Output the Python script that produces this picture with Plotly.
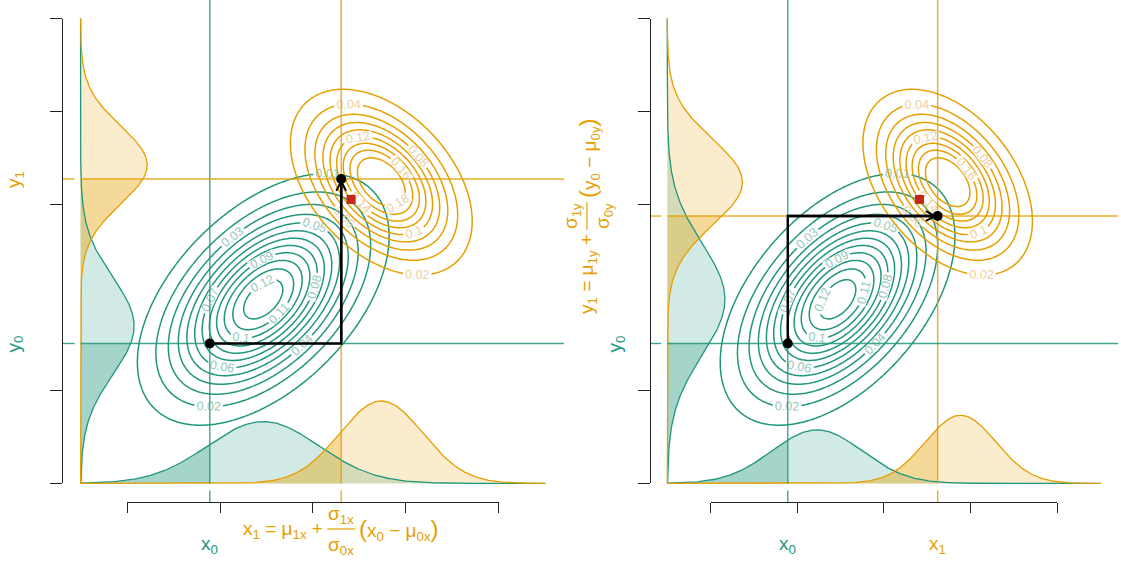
import numpy as np
import plotly.graph_objects as go

W, H = 1121, 561

# ---- source (teal) and target (orange) bivariate normal distributions ----
src_mean = [4.93, 3.96]
src_sd = [1.20, 1.20]
src_rho = 0.50
tgt_mean = [7.47, 6.48]
tgt_sd = [0.90, 0.92]
tgt_rho = -0.42

start_point = [3.78, 3.01]   # (x0, y0)
exact_point = [6.82, 6.11]   # exact transported point

src_levels = dict(start=0.01, end=0.1201, size=0.01)
tgt_levels = dict(start=0.02, end=0.1801, size=0.02)

marginal_scale = 4.0
conditional_scale = 3.0

x_range = [0.6, 11.4]
y_range = [-0.4, 10.4]
x_support = [1.0, 11.0]
y_support = [0.0, 10.0]
x_ticks = [2, 4, 6, 8, 10]
y_ticks = [0, 2, 6, 8, 10]

# ---- page geometry (paper fractions) ----
dom_left = [0.0553, 0.5031]
dom_right = [0.5798, 0.9973]
dom_y = [0.1052, 1.0]

TEAL = (32, 150, 124)
ORANGE = (230, 159, 0)
FONT = "Liberation Sans, Arial, sans-serif"


def rgba(c, a=1.0):
    return f"rgba({c[0]},{c[1]},{c[2]},{a})"


def normal_pdf(v, m, s):
    return np.exp(-0.5 * ((v - m) / s) ** 2) / (s * np.sqrt(2 * np.pi))


def conditional(mean, sd, rho, given, value):
    other = 1 - given
    m = mean[other] + rho * sd[other] / sd[given] * (value - mean[given])
    s = sd[other] * np.sqrt(1 - rho ** 2)
    return m, s


def bvn_pdf(X, Y, mean, sd, rho):
    zx = (X - mean[0]) / sd[0]
    zy = (Y - mean[1]) / sd[1]
    q = (zx ** 2 - 2 * rho * zx * zy + zy ** 2) / (1 - rho ** 2)
    return np.exp(-q / 2) / (2 * np.pi * sd[0] * sd[1] * np.sqrt(1 - rho ** 2))


def x_to_paper(v, dom):
    return dom[0] + (v - x_range[0]) / (x_range[1] - x_range[0]) * (dom[1] - dom[0])


def y_to_paper(v):
    return dom_y[0] + (v - y_range[0]) / (y_range[1] - y_range[0]) * (dom_y[1] - dom_y[0])


def x_units(px, dom):
    return px * (x_range[1] - x_range[0]) / (W * (dom[1] - dom[0]))


def y_units(px):
    return px * (y_range[1] - y_range[0]) / (H * (dom_y[1] - dom_y[0]))


def big_paren(s):
    return f'<span style="font-size:24px">{s}</span>'


x0, y0 = start_point

# left panel: map x by marginals, then y by conditionals
xL1 = tgt_mean[0] + tgt_sd[0] / src_sd[0] * (x0 - src_mean[0])
cy_src = conditional(src_mean, src_sd, src_rho, 0, x0)
cy_tgt = conditional(tgt_mean, tgt_sd, tgt_rho, 0, xL1)
yL1 = cy_tgt[0] + cy_tgt[1] / cy_src[1] * (y0 - cy_src[0])

# right panel: map y by marginals, then x by conditionals
yR1 = tgt_mean[1] + tgt_sd[1] / src_sd[1] * (y0 - src_mean[1])
cx_src = conditional(src_mean, src_sd, src_rho, 1, y0)
cx_tgt = conditional(tgt_mean, tgt_sd, tgt_rho, 1, yR1)
xR1 = cx_tgt[0] + cx_tgt[1] / cx_src[1] * (x0 - cx_src[0])

panels = [
    dict(xa="x", ya="y", dom=dom_left, x1=xL1, y1=yL1, first="x",
         bottom=[(src_mean[0], src_sd[0], marginal_scale, TEAL, x0),
                 (tgt_mean[0], tgt_sd[0], marginal_scale, ORANGE, xL1)],
         left=[(cy_src[0], cy_src[1], conditional_scale, TEAL, y0),
               (cy_tgt[0], cy_tgt[1], conditional_scale, ORANGE, yL1)]),
    dict(xa="x2", ya="y2", dom=dom_right, x1=xR1, y1=yR1, first="y",
         bottom=[(cx_src[0], cx_src[1], conditional_scale, TEAL, x0),
                 (cx_tgt[0], cx_tgt[1], conditional_scale, ORANGE, xR1)],
         left=[(src_mean[1], src_sd[1], marginal_scale, TEAL, y0),
               (tgt_mean[1], tgt_sd[1], marginal_scale, ORANGE, yR1)]),
]

gx = np.linspace(x_range[0], x_range[1], 320)
gy = np.linspace(y_range[0], y_range[1], 320)
GX, GY = np.meshgrid(gx, gy)
Z_src = bvn_pdf(GX, GY, src_mean, src_sd, src_rho)
Z_tgt = bvn_pdf(GX, GY, tgt_mean, tgt_sd, tgt_rho)

xs = np.linspace(x_support[0], x_support[1], 500)
ys = np.linspace(y_support[0], y_support[1], 500)

fig = go.Figure()
annotations = []
shapes = []


def add(tr):
    tr.update(showlegend=False, hoverinfo="skip")
    fig.add_trace(tr)


for p in panels:
    xa, ya, dom = p["xa"], p["ya"], p["dom"]
    x1, y1 = p["x1"], p["y1"]
    base_x, base_y = x_support[0], y_support[0]

    # marginal / conditional density fills
    for (m, s, k, col, cut) in p["bottom"]:
        d = base_y + k * normal_pdf(xs, m, s)
        add(go.Scatter(x=np.r_[xs[0], xs, xs[-1]], y=np.r_[base_y, d, base_y],
                       fill="toself", fillcolor=rgba(col, 0.2), mode="lines",
                       line=dict(width=0), xaxis=xa, yaxis=ya))
        xp = np.r_[xs[xs < cut], cut]
        dp = base_y + k * normal_pdf(xp, m, s)
        add(go.Scatter(x=np.r_[xp[0], xp, cut], y=np.r_[base_y, dp, base_y],
                       fill="toself", fillcolor=rgba(col, 0.25), mode="lines",
                       line=dict(width=0), xaxis=xa, yaxis=ya))
    for (m, s, k, col, cut) in p["left"]:
        d = base_x + k * normal_pdf(ys, m, s)
        add(go.Scatter(x=np.r_[base_x, d, base_x], y=np.r_[ys[0], ys, ys[-1]],
                       fill="toself", fillcolor=rgba(col, 0.2), mode="lines",
                       line=dict(width=0), xaxis=xa, yaxis=ya))
        yp = np.r_[ys[ys < cut], cut]
        dp = base_x + k * normal_pdf(yp, m, s)
        add(go.Scatter(x=np.r_[base_x, dp, base_x], y=np.r_[yp[0], yp, cut],
                       fill="toself", fillcolor=rgba(col, 0.25), mode="lines",
                       line=dict(width=0), xaxis=xa, yaxis=ya))
    for (m, s, k, col, cut) in p["bottom"]:
        add(go.Scatter(x=xs, y=base_y + k * normal_pdf(xs, m, s), mode="lines",
                       line=dict(color=rgba(col), width=1.3), xaxis=xa, yaxis=ya))
    for (m, s, k, col, cut) in p["left"]:
        add(go.Scatter(x=base_x + k * normal_pdf(ys, m, s), y=ys, mode="lines",
                       line=dict(color=rgba(col), width=1.3), xaxis=xa, yaxis=ya))

    # density contours
    for Z, lv, col, lab in [(Z_src, src_levels, TEAL, (150, 200, 186)),
                            (Z_tgt, tgt_levels, ORANGE, (236, 208, 160))]:
        add(go.Contour(x=gx, y=gy, z=Z, autocontour=False,
                       contours=dict(coloring="lines", showlabels=True,
                                     labelformat=".2~f",
                                     labelfont=dict(size=12.5, color=rgba(lab), family=FONT),
                                     **lv),
                       colorscale=[[0, rgba(col)], [1, rgba(col)]], showscale=False,
                       line=dict(width=1.5), xaxis=xa, yaxis=ya))

    # reference lines through the start and mapped points
    gap_y = y_units(7)
    gap_x = x_units(6, dom)
    for xv, col in [(x0, TEAL), (x1, ORANGE)]:
        add(go.Scatter(x=[xv, xv, None, xv, xv],
                       y=[y_range[0], base_y - gap_y, None, base_y, y_range[1]],
                       mode="lines", line=dict(color=rgba(col, 0.85), width=1.4),
                       xaxis=xa, yaxis=ya))
    for yv, col in [(y0, TEAL), (y1, ORANGE)]:
        add(go.Scatter(x=[x_range[0], base_x - gap_x, None, base_x, x_range[1]],
                       y=[yv, yv, None, yv, yv],
                       mode="lines", line=dict(color=rgba(col, 0.85), width=1.4),
                       xaxis=xa, yaxis=ya))

    # transport path
    if p["first"] == "x":
        path = [(x0, y0), (x1, y0), (x1, y1)]
    else:
        path = [(x0, y0), (x0, y1), (x1, y1)]
    add(go.Scatter(x=[q[0] for q in path], y=[q[1] for q in path], mode="lines",
                   line=dict(color="black", width=2.4), xaxis=xa, yaxis=ya))
    annotations.append(dict(x=path[2][0], y=path[2][1], ax=path[1][0], ay=path[1][1],
                            xref=xa, yref=ya, axref=xa, ayref=ya, text="",
                            showarrow=True, arrowhead=5, arrowsize=0.8,
                            arrowwidth=2.4, arrowcolor="black", standoff=0))
    add(go.Scatter(x=[x0, x1], y=[y0, y1], mode="markers",
                   marker=dict(color="black", size=10), xaxis=xa, yaxis=ya))
    add(go.Scatter(x=[exact_point[0]], y=[exact_point[1]], mode="markers",
                   marker=dict(color="#C3261B", size=9, symbol="square"),
                   xaxis=xa, yaxis=ya))

    # small label ticks outside the axes
    add(go.Scatter(x=[x0, x1, x_range[0] - x_units(12, dom), x_range[0] - x_units(12, dom)],
                   y=[y_range[0] - y_units(10), y_range[0] - y_units(10), y0, y1],
                   mode="markers", marker=dict(color="#555", size=2.5),
                   cliponaxis=False, xaxis=xa, yaxis=ya))

    # axis labels
    bottom = dom_y[0]
    annotations.append(dict(x=x0, y=bottom, xref=xa, yref="paper", yshift=-43,
                            text="x<sub>0</sub>", showarrow=False, yanchor="middle",
                            font=dict(size=19, color=rgba(TEAL), family=FONT)))
    left = dom[0]
    lab_shift = -47 if p["first"] == "x" else -33
    annotations.append(dict(x=left, y=y0, xref="paper", yref=ya, xshift=lab_shift,
                            text="y<sub>0</sub>", showarrow=False, textangle=-90,
                            xanchor="center",
                            font=dict(size=19, color=rgba(TEAL), family=FONT)))
    ofont = dict(size=19, color=rgba(ORANGE), family=FONT)
    if p["first"] == "x":
        annotations.append(dict(x=left, y=y1, xref="paper", yref=ya, xshift=-47,
                                text="y<sub>1</sub>", showarrow=False, textangle=-90,
                                xanchor="center", font=ofont))
        annotations += [
            dict(x=x1, y=bottom, xref=xa, yref="paper", xshift=-16, yshift=-28,
                 xanchor="right", yanchor="middle", showarrow=False, font=ofont,
                 text="x<sub>1</sub> = μ<sub>1x</sub> +"),
            dict(x=x1, y=bottom, xref=xa, yref="paper", yshift=-13,
                 xanchor="center", yanchor="middle", showarrow=False, font=ofont,
                 text="σ<sub>1x</sub>"),
            dict(x=x1, y=bottom, xref=xa, yref="paper", yshift=-44,
                 xanchor="center", yanchor="middle", showarrow=False, font=ofont,
                 text="σ<sub>0x</sub>"),
            dict(x=x1, y=bottom, xref=xa, yref="paper", xshift=16, yshift=-28,
                 xanchor="left", yanchor="middle", showarrow=False, font=ofont,
                 text=big_paren("(") + "x<sub>0</sub> − μ<sub>0x</sub>" + big_paren(")")),
        ]
        shapes.append(dict(type="line", xref=xa, yref="paper",
                           x0=x1 - x_units(14, dom), x1=x1 + x_units(14, dom),
                           y0=bottom - 27 / H, y1=bottom - 27 / H,
                           line=dict(color=rgba(ORANGE), width=1.2)))
    else:
        annotations.append(dict(x=x1, y=bottom, xref=xa, yref="paper", yshift=-43,
                                text="x<sub>1</sub>", showarrow=False, yanchor="middle",
                                font=ofont))
        annotations += [
            dict(x=left, y=y1, xref="paper", yref=ya, xshift=-62, yshift=-16,
                 xanchor="center", yanchor="top", textangle=-90, showarrow=False,
                 font=ofont, text="y<sub>1</sub> = μ<sub>1y</sub> +"),
            dict(x=left, y=y1, xref="paper", yref=ya, xshift=-78,
                 xanchor="center", yanchor="middle", textangle=-90, showarrow=False,
                 font=ofont, text="σ<sub>1y</sub>"),
            dict(x=left, y=y1, xref="paper", yref=ya, xshift=-46,
                 xanchor="center", yanchor="middle", textangle=-90, showarrow=False,
                 font=ofont, text="σ<sub>0y</sub>"),
            dict(x=left, y=y1, xref="paper", yref=ya, xshift=-62, yshift=16,
                 xanchor="center", yanchor="bottom", textangle=-90, showarrow=False,
                 font=ofont,
                 text=big_paren("(") + "y<sub>0</sub> − μ<sub>0y</sub>" + big_paren(")")),
        ]
        shapes.append(dict(type="line", xref="paper", yref=ya,
                           x0=left - 63 / W, x1=left - 63 / W,
                           y0=y1 - y_units(14), y1=y1 + y_units(14),
                           line=dict(color=rgba(ORANGE), width=1.2)))

# anchor traces for the drawn axis frames
for xa, ya in [("x3", "y3"), ("x4", "y4")]:
    add(go.Scatter(x=[None], y=[None], xaxis=xa, yaxis=ya, mode="markers"))

hidden = dict(visible=False, showgrid=False, zeroline=False, fixedrange=True)
frame = dict(showline=True, linecolor="#222", linewidth=1.3, ticks="outside",
             tickcolor="#222", tickwidth=1.3, showticklabels=False, showgrid=False,
             zeroline=False, anchor="free", fixedrange=True)

fig.update_layout(
    width=W, height=H, margin=dict(l=0, r=0, t=0, b=0),
    paper_bgcolor="white", plot_bgcolor="rgba(0,0,0,0)",
    showlegend=False,
    xaxis=dict(hidden, domain=dom_left, range=x_range, anchor="y"),
    yaxis=dict(hidden, domain=dom_y, range=y_range, anchor="x"),
    xaxis2=dict(hidden, domain=dom_right, range=x_range, anchor="y2"),
    yaxis2=dict(hidden, domain=dom_y, range=y_range, anchor="x2"),
    xaxis3=dict(frame, domain=[x_to_paper(x_ticks[0], dom_left), x_to_paper(x_ticks[-1], dom_left)],
                range=[x_ticks[0], x_ticks[-1]], tickvals=x_ticks, ticklen=10,
                position=dom_y[0]),
    yaxis3=dict(frame, domain=[y_to_paper(y_support[0]), y_to_paper(y_support[1])],
                range=y_support, tickvals=y_ticks, ticklen=12, side="left",
                position=dom_left[0]),
    xaxis4=dict(frame, domain=[x_to_paper(x_ticks[0], dom_right), x_to_paper(x_ticks[-1], dom_right)],
                range=[x_ticks[0], x_ticks[-1]], tickvals=x_ticks, ticklen=10,
                position=dom_y[0]),
    yaxis4=dict(frame, domain=[y_to_paper(y_support[0]), y_to_paper(y_support[1])],
                range=y_support, tickvals=y_ticks, ticklen=12, side="left",
                position=dom_right[0]),
    annotations=annotations,
    shapes=shapes,
)

fig.write_html("out.html")
